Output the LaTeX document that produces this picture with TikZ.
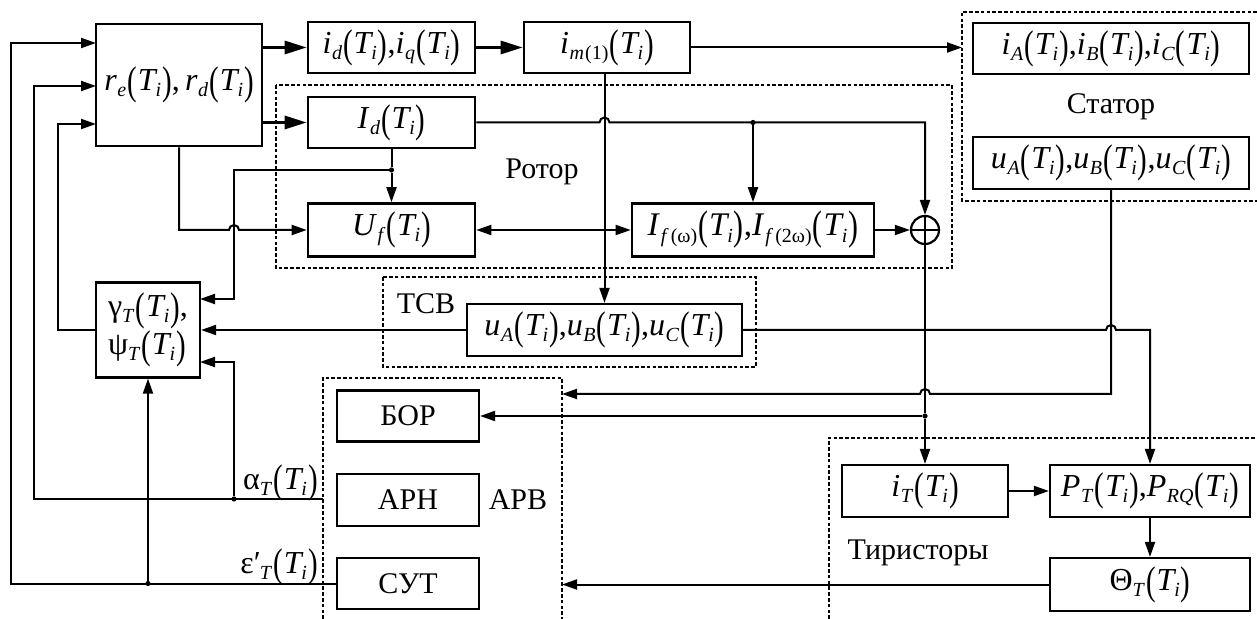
\documentclass[tikz,border=0pt]{standalone}
\usepackage{fontspec}
\setmainfont{Liberation Serif}
\usepackage{graphicx}
\usetikzlibrary{arrows.meta,calc}

\newcommand\lowr[1]{\raisebox{-0.42ex}{\fontsize{10}{11}\selectfont #1}}
\newcommand\lpar{\raisebox{-0.12em}{\scalebox{0.9}[1.25]{(}}}
\newcommand\rpar{\raisebox{-0.12em}{\scalebox{0.9}[1.25]{)}}}
\newcommand\Ti{\lpar\kern0.5pt\textit{T}\kern-1pt\lowr{\textit{i}}\kern0.5pt\rpar}
\newcommand\fnc[2]{\textit{#1}\kern0.3pt\lowr{\textit{#2}}\kern0.5pt\Ti}

\begin{document}
\begin{tikzpicture}[x={(0.5pt,0pt)},y={(0pt,-0.5pt)},
  blk/.style={draw,line width=1.3pt,inner sep=0pt,font=\fontsize{16}{19}\selectfont},
  sblk/.style={draw,line width=1.1pt,inner sep=0pt,font=\fontsize{15}{18}\selectfont},
  lbl/.style={font=\fontsize{15}{18}\selectfont,inner sep=0pt},
  grp/.style={line width=0.9pt,dash pattern=on 1.8pt off 1.1pt},
  ln/.style={line width=1pt},
  con/.style={line width=1pt,-{Triangle[length=7.5pt,width=5pt]}},
  dcon/.style={line width=1pt,{Triangle[length=7.5pt,width=5pt]}-{Triangle[length=7.5pt,width=5pt]}},
  bcon/.style={line width=1.5pt,-{Triangle[length=11pt,width=6.5pt]}},
  jdot/.style={circle,fill,inner sep=0pt,minimum size=2.6pt},
]
\useasboundingbox (0,0) rectangle (1257,619);

% group frames
\draw[grp] (276,85) rectangle (952,268);
\draw[grp] (1257,12) -- (962,12) -- (962,201) -- (1257,201);
\draw[grp] (383,277) rectangle (756,367);
\draw[grp] (323,619) -- (323,378) -- (562,378) -- (562,619);
\draw[grp] (829,619) -- (829,438) -- (1257,438);

% blocks
\node[blk,minimum width=83pt,minimum height=61pt] (re) at (179,85) {\fnc{r}{e},\,\fnc{r}{d}};
\node[blk,minimum width=83.5pt,minimum height=25.5pt] (id) at (391.5,47.5) {\fnc{i}{d},\fnc{i}{q}};
\node[blk,minimum width=83pt,minimum height=25.5pt] (im) at (607,47.5) {\textit{i}\kern0.3pt\lowr{\textit{m}\kern0.5pt(1)}\kern0.5pt\Ti};
\node[blk,minimum width=83.5pt,minimum height=25.5pt] (Id) at (391.5,122.5) {\fnc{I}{d}};
\node[blk,minimum width=83.5pt,minimum height=26.5pt] (Uf) at (391.5,230) {\fnc{U}{f}};
\node[blk,minimum width=121pt,minimum height=26.5pt,font=\fontsize{16.5}{19}\selectfont] (If) at (753,230) {\textit{I}\kern0.5pt\lowr{\textit{f}\kern1pt(ω)}\kern0.5pt\Ti,\textit{I}\kern0.5pt\lowr{\textit{f}\kern1pt(2ω)}\kern0.5pt\Ti};
\node[circle,draw,line width=1.1pt,minimum size=14pt,inner sep=0pt] (plus) at (925,230) {};
\draw[line width=1.1pt] (plus.north) -- (plus.south) (plus.west) -- (plus.east);
\node[blk,line width=1.1pt,minimum width=138pt,minimum height=25.5pt] (iA) at (1111,48.5) {\fnc{i}{A},\fnc{i}{B},\fnc{i}{C}};
\node[blk,line width=1.1pt,minimum width=138pt,minimum height=26pt] (uS) at (1111,163) {\fnc{u}{A},\fnc{u}{B},\fnc{u}{C}};
\node[blk,line width=1.1pt,minimum width=137.5pt,minimum height=26pt] (uT) at (604.5,330) {\fnc{u}{A},\fnc{u}{B},\fnc{u}{C}};
\node[blk,line width=1.1pt,minimum width=52pt,minimum height=47.5pt,align=left,font=\fontsize{16}{19}\selectfont] (gam) at (148,330) {γ\lowr{\textit{T}}\kern0.5pt\Ti,\\ψ\lowr{\textit{T}}\kern0.5pt\Ti};
\node[sblk,minimum width=71pt,minimum height=25.5pt] (BOR) at (408,416) {БОР};
\node[sblk,minimum width=71pt,minimum height=26pt] (ARN) at (408,500) {АРН};
\node[sblk,minimum width=71pt,minimum height=25.5pt] (SUT) at (408,583.5) {СУТ};
\node[blk,line width=1.1pt,minimum width=83pt,minimum height=26pt] (iT) at (925,491) {\fnc{i}{T}};
\node[blk,line width=1.1pt,minimum width=100pt,minimum height=26pt] (P) at (1150,491) {\fnc{P}{T},\fnc{P}{RQ}};
\node[blk,line width=1.1pt,minimum width=100pt,minimum height=26.5pt] (Th) at (1150,584.5) {Θ\lowr{\textit{T}}\kern0.5pt\Ti};

% labels
\node[lbl] (lrot) at (542,172) {Ротор};
\node[lbl] (lsta) at (1111,107) {Статор};
\node[lbl] (ltcb) at (426,304) {ТСВ};
\node[lbl] (larv) at (518,500) {АРВ};
\node[lbl] (ltir) at (918,553) {Тиристоры};
\node[inner sep=0pt,anchor=base east,font=\fontsize{16}{19}\selectfont] (lal) at (318,489) {α\lowr{\textit{T}}\kern0.5pt\Ti};
\node[inner sep=0pt,anchor=base east,font=\fontsize{16}{19}\selectfont] (lep) at (318,573) {ε′\kern-0.5pt\lowr{\textit{T}}\kern0.5pt\Ti};

% coordinates
\coordinate (stin) at (962,47.5);
\coordinate (arvA) at (562,394);
\coordinate (arvB) at (562,584.5);
\coordinate (alst) at (323,499);
\coordinate (r1) at (96,43);
\coordinate (r2) at (96,86);
\coordinate (r3) at (96,124);
\coordinate (g1) at (200,299);
\coordinate (g3) at (200,362);

% junction dots
\node[jdot] (d1) at (753,122.5) {};
\node[jdot] (d2) at (391.5,170) {};
\node[jdot] (d3) at (925,416) {};
\node[jdot] (d4) at (234,499) {};
\node[jdot] (d5) at (148,583.5) {};

% connectors
\draw[bcon] (re.east |- id.west) -- (id.west);
\draw[bcon] (id.east) -- (im.west);
\draw[bcon] (re.east |- Id.west) -- (Id.west);
\draw[con] (im.east) -- (stin);
\draw[con] (Id.east) -- (599.5,122.5) arc[start angle=180,end angle=0,radius=2.5pt] -- (925,122.5) -- (plus.north);
\draw[con] (d1) -- (If.north);
\draw[ln] (Id.south) -- (d2);
\draw[con] (d2) -- (Uf.north);
\draw[con] (d2) -| (234,299) -- (g1);
\draw[con] (re.south) -- (179,230) -- (229,230) arc[start angle=180,end angle=0,radius=2.5pt] -- (Uf.west);
\draw[dcon] (Uf.east) -- (If.west);
\draw[con] (uT.north |- im.south) -- (uT.north);
\draw[con] (If.east) -- (plus.west);
\draw[ln] (plus.south) -- (d3);
\draw[con] (d3) -- (iT.north);
\draw[con] (d3) -- (BOR.east);
\draw[con] (uS.south) -- (1111,394) -- (930,394) arc[start angle=0,end angle=180,radius=2.5pt] -- (arvA);
\draw[con] (uT.east) -- (1106,330) arc[start angle=180,end angle=0,radius=2.5pt] -- (1150,330) -- (P.north);
\draw[con] (uT.west) -- (gam.east);
\draw[con] (gam.west) -| (58,124) -- (r3);
\draw[con] (alst) -- (34,499) -- (34,86) -- (r2);
\draw[con] (d4) |- (g3);
\draw[con] (SUT.west) -- (11,583.5) -- (11,43) -- (r1);
\draw[con] (d5) -- (gam.south);
\draw[con] (iT.east) -- (P.west);
\draw[con] (P.south) -- (Th.north);
\draw[con] (Th.west) -- (arvB);
\end{tikzpicture}
\end{document}
